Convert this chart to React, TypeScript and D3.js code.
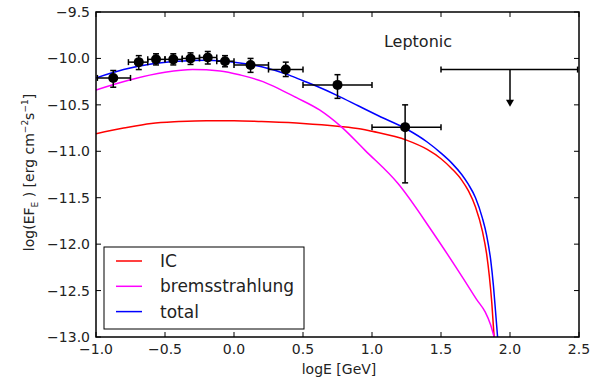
import React from "react";
import * as d3 from "d3";

const ptX = [-0.875, -0.69, -0.565, -0.44, -0.315, -0.19, -0.065, 0.12, 0.375, 0.75, 1.24];
const ptY = [-10.21, -10.04, -10.01, -10.01, -10.0, -9.99, -10.03, -10.07, -10.12, -10.285, -10.74];
const ptXlo = [-0.99, -0.765, -0.625, -0.5, -0.375, -0.25, -0.125, 0.0, 0.25, 0.5, 1.0];
const ptXhi = [-0.75, -0.625, -0.5, -0.375, -0.25, -0.125, 0.0, 0.25, 0.5, 1.0, 1.5];
const ptYlo = [-10.31, -10.12, -10.07, -10.07, -10.065, -10.06, -10.09, -10.15, -10.195, -10.43, -11.34];
const ptYhi = [-10.13, -9.97, -9.95, -9.95, -9.94, -9.925, -9.97, -10.0, -10.04, -10.175, -10.5];

const ulXlo = 1.5;
const ulXhi = 2.49;
const ulX = 2.0;
const ulY = -10.12;
const ulTip = -10.52;

const totX = [-1.0, -0.8, -0.6, -0.4, -0.2, 0.0, 0.2, 0.4, 0.5, 0.6, 0.75, 0.9, 1.05, 1.25, 1.4, 1.5, 1.58, 1.65, 1.7, 1.75, 1.8, 1.83, 1.86, 1.88, 1.895, 1.91];
const totY = [-10.21, -10.12, -10.06, -10.03, -10.02, -10.04, -10.09, -10.18, -10.24, -10.3, -10.4, -10.51, -10.62, -10.76, -10.9, -11.02, -11.13, -11.25, -11.36, -11.5, -11.72, -11.9, -12.17, -12.45, -12.72, -13.0];

const icX = [-1.0, -0.8, -0.6, -0.4, -0.2, 0.0, 0.2, 0.5, 0.75, 0.92, 1.0, 1.25, 1.4, 1.5, 1.58, 1.65, 1.7, 1.75, 1.8, 1.83, 1.85, 1.868, 1.885];
const icY = [-10.81, -10.75, -10.7, -10.68, -10.67, -10.67, -10.68, -10.7, -10.73, -10.76, -10.785, -10.88, -10.98, -11.08, -11.19, -11.31, -11.43, -11.6, -11.86, -12.1, -12.34, -12.63, -13.0];

const brX = [-1.0, -0.75, -0.5, -0.3, -0.1, 0.05, 0.21, 0.33, 0.45, 0.62, 0.78, 0.95, 1.19, 1.43, 1.67, 1.76, 1.82, 1.86, 1.885];
const brY = [-10.34, -10.23, -10.15, -10.12, -10.135, -10.18, -10.25, -10.33, -10.42, -10.555, -10.74, -10.99, -11.35, -11.85, -12.39, -12.6, -12.73, -12.87, -13.0];

const xTicks = [-1.0, -0.5, 0.0, 0.5, 1.0, 1.5, 2.0, 2.5];
const yTicks = [-9.5, -10.0, -10.5, -11.0, -11.5, -12.0, -12.5, -13.0];

const legendLabels = ["IC", "bremsstrahlung", "total"];
const legendColors = ["#ff0000", "#ff00ff", "#0000ff"];

const L = 96, R = 579, T = 12, B = 337;
const FONT = "DejaVu Sans";

const fmt = (v: number) => (v < 0 ? "\u2212" : "") + Math.abs(v).toFixed(1);

export default function App() {
  const x = d3.scaleLinear().domain([-1, 2.5]).range([L, R]);
  const y = d3.scaleLinear().domain([-13, -9.5]).range([B, T]);
  const line = (xs: number[], ys: number[]) =>
    d3.line<number>().x((_, i) => x(xs[i])).y((_, i) => y(ys[i])).curve(d3.curveMonotoneX)(xs) || "";
  const cap = 3;
  return (
    <svg width={595} height={382} style={{ position: "absolute", left: 0, top: 0, background: "#fff" }} fontFamily={FONT}>
      <defs>
        <clipPath id="plot">
          <rect x={L} y={T} width={R - L} height={B - T} />
        </clipPath>
      </defs>
      <rect x={0} y={0} width={595} height={382} fill="#fff" />
      <g clipPath="url(#plot)" fill="none" strokeWidth={1.5}>
        <path d={line(icX, icY)} stroke={legendColors[0]} />
        <path d={line(brX, brY)} stroke={legendColors[1]} />
        <path d={line(totX, totY)} stroke={legendColors[2]} />
      </g>
      <g stroke="#000" strokeWidth={1.5}>
        {ptX.map((px, i) => (
          <g key={i}>
            <line x1={x(ptXlo[i])} x2={x(ptXhi[i])} y1={y(ptY[i])} y2={y(ptY[i])} />
            <line x1={x(px)} x2={x(px)} y1={y(ptYlo[i])} y2={y(ptYhi[i])} />
            <line x1={x(ptXlo[i])} x2={x(ptXlo[i])} y1={y(ptY[i]) - cap} y2={y(ptY[i]) + cap} />
            <line x1={x(ptXhi[i])} x2={x(ptXhi[i])} y1={y(ptY[i]) - cap} y2={y(ptY[i]) + cap} />
            <line x1={x(px) - cap} x2={x(px) + cap} y1={y(ptYlo[i])} y2={y(ptYlo[i])} />
            <line x1={x(px) - cap} x2={x(px) + cap} y1={y(ptYhi[i])} y2={y(ptYhi[i])} />
          </g>
        ))}
        <line x1={x(ulXlo)} x2={x(ulXhi)} y1={y(ulY)} y2={y(ulY)} />
        <line x1={x(ulXlo)} x2={x(ulXlo)} y1={y(ulY) - cap} y2={y(ulY) + cap} />
        <line x1={x(ulXhi)} x2={x(ulXhi)} y1={y(ulY) - cap} y2={y(ulY) + cap} />
        <line x1={x(ulX)} x2={x(ulX)} y1={y(ulY)} y2={y(ulTip) - 6} />
      </g>
      <path
        d={`M${x(ulX) - 4},${y(ulTip) - 7} L${x(ulX) + 4},${y(ulTip) - 7} L${x(ulX)},${y(ulTip)} Z`}
        fill="#000"
      />
      <g fill="#000">
        {ptX.map((px, i) => (
          <circle key={i} cx={x(px)} cy={y(ptY[i])} r={5} />
        ))}
      </g>
      <rect x={L} y={T} width={R - L} height={B - T} fill="none" stroke="#000" strokeWidth={1.5} />
      <g stroke="#000" strokeWidth={1}>
        {xTicks.map((t) => (
          <g key={"x" + t}>
            <line x1={x(t)} x2={x(t)} y1={B} y2={B - 5} />
            <line x1={x(t)} x2={x(t)} y1={T} y2={T + 5} />
          </g>
        ))}
        {yTicks.map((t) => (
          <g key={"y" + t}>
            <line x1={L} x2={L + 5} y1={y(t)} y2={y(t)} />
            <line x1={R} x2={R - 5} y1={y(t)} y2={y(t)} />
          </g>
        ))}
      </g>
      <g fontSize={14} fill="#222">
        {xTicks.map((t) => (
          <text key={"xl" + t} x={x(t)} y={B + 16.5} textAnchor="middle">{fmt(t)}</text>
        ))}
        {yTicks.map((t) => (
          <text key={"yl" + t} x={L - 6} y={y(t) + 5} textAnchor="end">{fmt(t)}</text>
        ))}
      </g>
      <text x={339} y={374} textAnchor="middle" fontSize={14} fill="#222">logE [GeV]</text>
      <text transform={`translate(34,${(T + B) / 2 - 2}) rotate(-90)`} textAnchor="middle" fontSize={14} fill="#222">
        log(EF<tspan fontSize={9} dy={4}>E</tspan><tspan dy={-4}> ) [erg cm</tspan>
        <tspan fontSize={9} dy={-6}>{"\u22122"}</tspan>
        <tspan dy={6}>s</tspan>
        <tspan fontSize={9} dy={-6}>{"\u22121"}</tspan>
        <tspan dy={6}>]</tspan>
      </text>
      <text x={418} y={47} textAnchor="middle" fontSize={16} fill="#222">Leptonic</text>
      <rect x={104} y={247} width={200} height={82} fill="#fff" stroke="#000" strokeWidth={1} />
      {legendLabels.map((lab, i) => (
        <g key={lab}>
          <line x1={116} x2={142} y1={261 + i * 25.3} y2={261 + i * 25.3} stroke={legendColors[i]} strokeWidth={1.5} />
          <text x={160} y={261 + i * 25.3 + 6} fontSize={17} fill="#222">{lab}</text>
        </g>
      ))}
    </svg>
  );
}
